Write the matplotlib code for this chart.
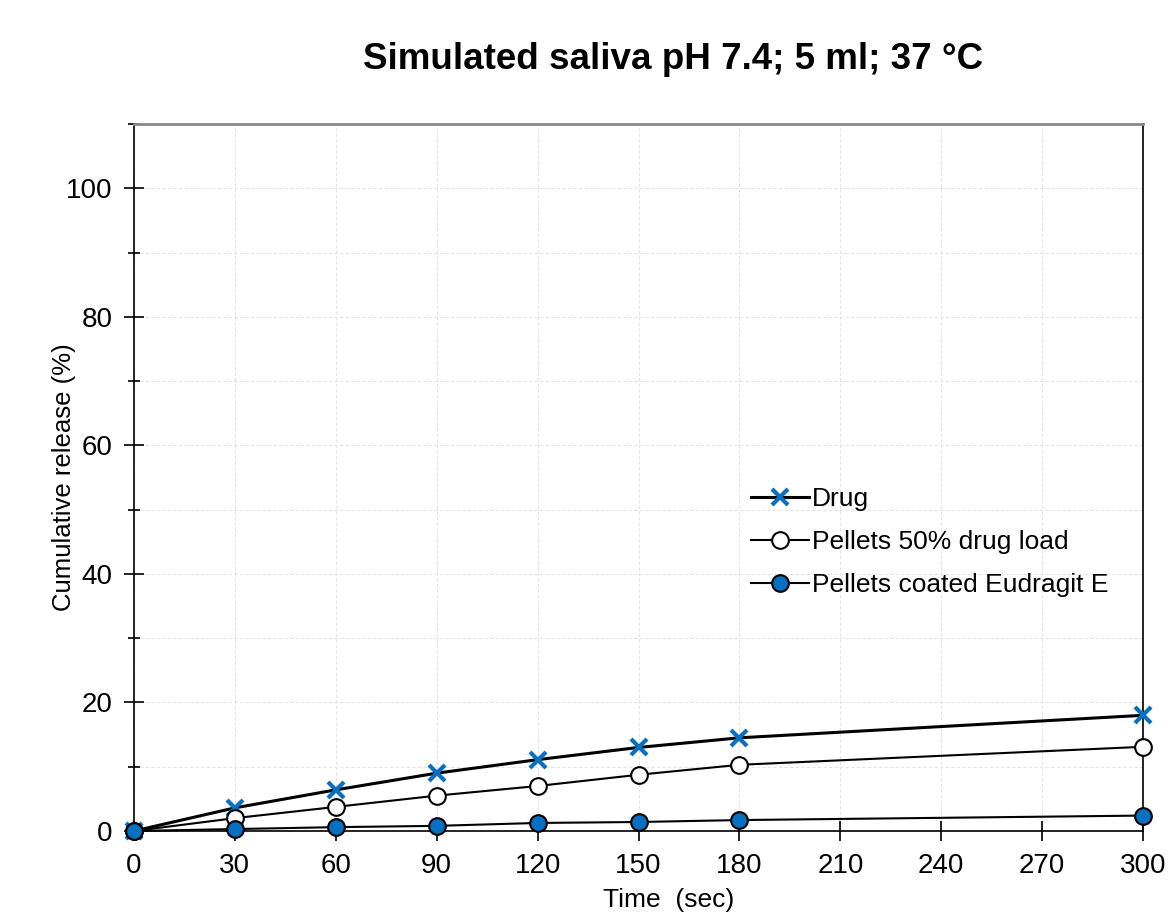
import numpy as np
import matplotlib
matplotlib.use("Agg")
import matplotlib.pyplot as plt
from matplotlib.ticker import MultipleLocator

plt.rcParams['font.family'] = ['Liberation Sans', 'DejaVu Sans']

# release data
time_sec = [0, 30, 60, 90, 120, 150, 180, 300]
drug = [0, 3.6, 6.4, 9.0, 11.1, 13.0, 14.5, 18.0]
pellets_50 = [0, 2.0, 3.75, 5.5, 7.0, 8.75, 10.3, 13.1]
pellets_coated = [0, 0.3, 0.6, 0.8, 1.25, 1.4, 1.7, 2.4]
x_ticks = [0, 30, 60, 90, 120, 150, 180, 210, 240, 270, 300]

blue = '#0870C0'

fig = plt.figure(figsize=(11.7, 9.16), dpi=100)
ax = fig.add_axes([0.1145, 0.0928, 0.8625, 0.7718])

ax.plot(time_sec, drug, color='black', lw=2.2, marker='x', ms=12,
        mec=blue, mew=3, label='Drug', zorder=3, clip_on=False)
ax.plot(time_sec, pellets_50, color='black', lw=1.5, marker='o', ms=12,
        mfc='white', mec='black', mew=1.5, label='Pellets 50% drug load',
        zorder=3, clip_on=False)
ax.plot(time_sec, pellets_coated, color='black', lw=1.5, marker='o', ms=12,
        mfc=blue, mec='black', mew=1.5, label='Pellets coated Eudragit E',
        zorder=3, clip_on=False)

ax.set_xlim(0, 300)
ax.set_ylim(0, 110)
ax.set_xticks(x_ticks)
ax.yaxis.set_major_locator(MultipleLocator(20))
ax.yaxis.set_minor_locator(MultipleLocator(10))
ax.tick_params(axis='both', which='both', direction='inout', labelsize=20, width=1.2)
ax.tick_params(axis='both', which='major', length=15)
ax.tick_params(axis='x', which='major', pad=8)
ax.tick_params(axis='y', which='major', pad=8)
ax.tick_params(axis='y', which='minor', length=8)
ax.grid(True, which='both', color='#e4e4e4', ls=(0, (3, 2)), lw=0.8)
ax.set_axisbelow(True)

for s in ['left', 'bottom', 'right']:
    ax.spines[s].set_color('black')
    ax.spines[s].set_linewidth(1.2)
ax.spines['top'].set_color('#888888')
ax.spines['top'].set_linewidth(2)

ax.set_ylabel('Cumulative release (%)', fontsize=18.5)
ax.set_xlabel('Time  (sec)', fontsize=19)
ax.xaxis.set_label_coords(0.53, -0.08)
ax.yaxis.set_label_coords(-0.057, 0.5)

ax.legend(loc='upper left', bbox_to_anchor=(0.588, 0.52), frameon=False,
          fontsize=19, handlelength=2.2, handletextpad=0.1, labelspacing=0.72)

fig.text(0.575, 0.935, 'Simulated saliva pH 7.4; 5 ml; 37 °C', ha='center',
         va='center', fontsize=26.5, fontweight='bold')

fig.savefig('out.png', dpi=100)
